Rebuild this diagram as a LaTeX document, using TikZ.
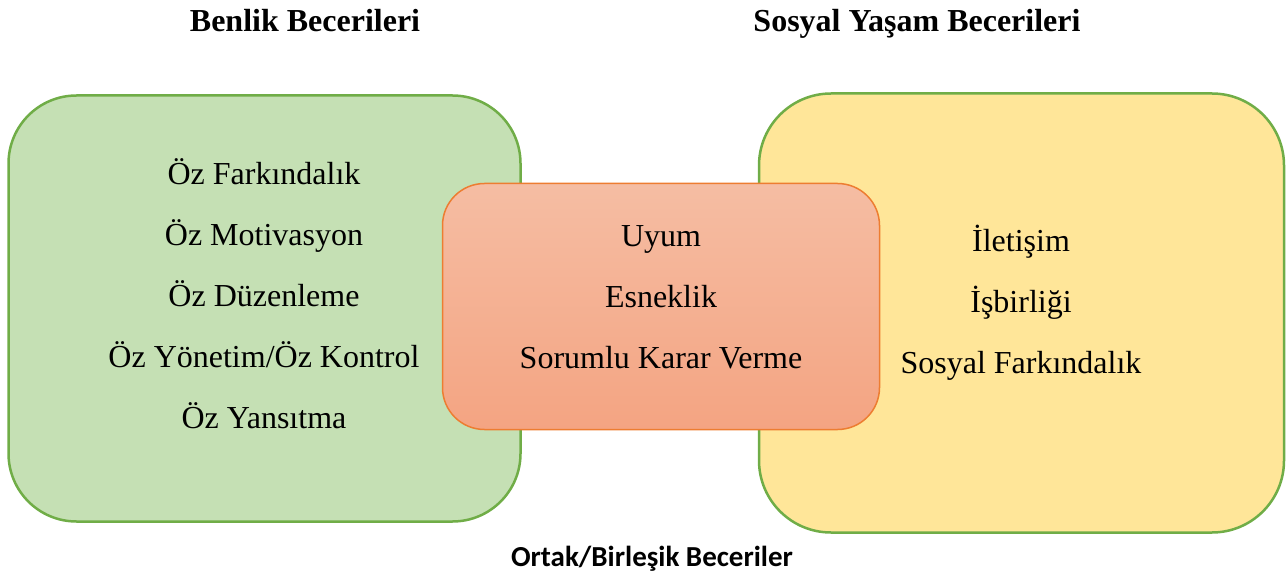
\documentclass[tikz,border=0pt]{standalone}
\usepackage{fontspec}
\setmainfont{Liberation Serif}
\newfontfamily\labelfont{Carlito}
\definecolor{greenFill}{HTML}{C5E0B4}
\definecolor{greenLine}{HTML}{70AD47}
\definecolor{yellowFill}{HTML}{FFE699}
\definecolor{orangeTop}{HTML}{F5BDA3}
\definecolor{orangeBot}{HTML}{F4A482}
\definecolor{orangeLine}{HTML}{ED7D31}
\begin{document}
\begin{tikzpicture}
  [x=1pt,y=1pt,
   every node/.style={font=\fontsize{32}{38}\selectfont},
   box/.style={rectangle,line width=2.5pt,inner sep=0pt},
   self/.style={box,draw=greenLine,fill=greenFill,rounded corners=68pt},
   social/.style={box,draw=greenLine,fill=yellowFill,rounded corners=72pt},
   shared/.style={box,draw=orangeLine,line width=1.5pt,top color=orangeTop,bottom color=orangeBot,rounded corners=42pt},
   title/.style={anchor=base,font=\fontsize{32}{38}\selectfont\bfseries},
   item/.style={anchor=base}]

  \useasboundingbox (0,0) rectangle (1287,579);

  \node[self,minimum width=512pt,minimum height=426pt] (S) at (264.5,270.5) {};
  \node[social,minimum width=525pt,minimum height=439pt] (Y) at (1021.5,266) {};
  \node[shared,minimum width=437pt,minimum height=246pt] (O) at (661,272.5) {};

  \node[title] (tS) at (305,547) {Benlik Becerileri};
  \node[title] (tY) at (917,547) {Sosyal Yaşam Becerileri};
  \node[font=\fontsize{29}{34}\labelfont\bfseries] (tO) at (652,20) {Ortak/Birleşik Beceriler};

  \foreach \i/\t in {0/Öz Farkındalık,1/Öz Motivasyon,2/Öz Düzenleme,3/Öz Yönetim\slash Öz Kontrol,4/Öz Yansıtma}
    \node[item] (s\i) at (264,{394-60.8*\i}) {\t};

  \foreach \i/\t in {0/Uyum,1/Esneklik,2/Sorumlu Karar Verme}
    \node[item] (o\i) at (661,{332-60.5*\i}) {\t};

  \foreach \i/\t in {0/İletişim,1/İşbirliği,2/Sosyal Farkındalık}
    \node[item] (y\i) at (1021,{327.3-60.8*\i}) {\t};
\end{tikzpicture}
\end{document}
